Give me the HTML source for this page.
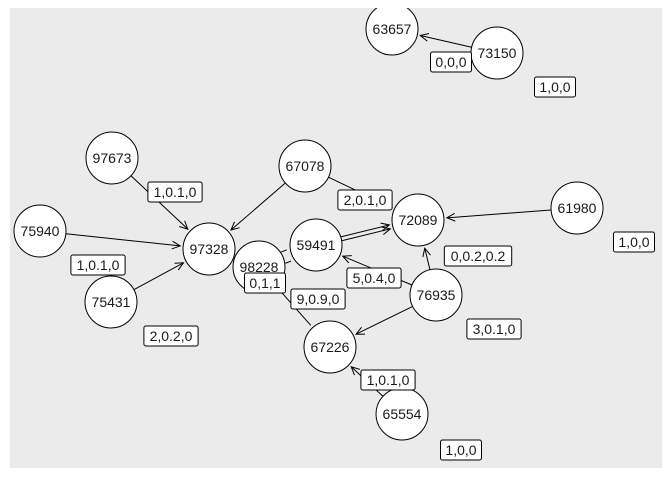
<!DOCTYPE html>
<html><head><meta charset="utf-8"><style>
body{margin:0;background:#fff}
svg text{font-family:"Liberation Sans",sans-serif;font-size:14px;fill:#1a1a1a}
</style></head><body>
<svg width="672" height="480">
<defs><clipPath id="cp"><rect x="10" y="8" width="652" height="460"/></clipPath></defs>
<rect x="10" y="8" width="652" height="460" fill="#ebebeb"/>
<g id="g" clip-path="url(#cp)"></g>
</svg>
<script>
const nodeIds=["63657","73150","97673","67078","61980","72089","75940","97328","59491","98228","75431","76935","67226","65554"];
const nodeX=[392,497,112,305,577,418,40,209,316,259,111,436,330,402];
const nodeY=[29,53,158,166,208,220,231,249,245,267,302,295,347,414];
const edgeFrom=["73150","97673","67078","75940","75431","67078","59491","59491","98228","98228","61980","76935","76935","76935","65554","98228"];
const edgeTo=["63657","97328","97328","97328","97328","72089","72089","72089","59491","59491","72089","72089","59491","67226","67226","67226"];
const edgeArrow=[1,1,1,1,1,1,1,1,0,0,1,1,1,1,1,0];
const edgeOffset=[0,0,0,0,0,0,-2,2,-6,6,0,0,0,0,0,0];
const labelText=["0,0,0","1,0,0","1,0.1,0","2,0.1,0","1,0,0","1,0.1,0","0,0.2,0.2","5,0.4,0","0,1,1","9,0.9,0","3,0.1,0","2,0.2,0","1,0.1,0","1,0,0"];
const labelX=[451,555,175,365,634,98,478,374,265,318,494,171,388,461];
const labelY=[62,87,192,200,242,265,256,278,283,299,329,336,380,450];
const R=26;
const g=document.getElementById('g');
const NS='http://www.w3.org/2000/svg';
function mk(t,a){const e=document.createElementNS(NS,t);for(const k in a)e.setAttribute(k,a[k]);g.appendChild(e);return e;}
function pos(id){const i=nodeIds.indexOf(id);return [nodeX[i],nodeY[i]];}
edgeFrom.forEach((f,i)=>{
  const [x1,y1]=pos(f),[x2,y2]=pos(edgeTo[i]);
  const dx=x2-x1,dy=y2-y1,L=Math.hypot(dx,dy),ux=dx/L,uy=dy/L,o=edgeOffset[i];
  const ox=-uy*o,oy=ux*o;
  const sx=x1+ux*R+ox,sy=y1+uy*R+oy,ex=x2-ux*(R+3)+ox,ey=y2-uy*(R+3)+oy;
  const l=mk('line',{x1:sx,y1:sy,x2:ex,y2:ey,stroke:'#000','stroke-width':1});
  
  
  if(edgeArrow[i]){
    const a=0.45,s=9;
    const p=`M${ex-s*(ux*Math.cos(a)-uy*Math.sin(a))},${ey-s*(uy*Math.cos(a)+ux*Math.sin(a))} L${ex},${ey} L${ex-s*(ux*Math.cos(a)+uy*Math.sin(a))},${ey-s*(uy*Math.cos(a)-ux*Math.sin(a))}`;
    const ar=mk('path',{d:p,fill:'none',stroke:'#000','stroke-width':1});
    
    
  }
});
nodeIds.forEach((id,i)=>{
  const c=mk('circle',{cx:nodeX[i],cy:nodeY[i],r:R,fill:'#fff',stroke:'#000','stroke-width':1});
  
  
  const t=mk('text',{x:nodeX[i],y:nodeY[i]+5,'text-anchor':'middle'});
  t.textContent=id;
  
  
});
labelText.forEach((s,i)=>{
  const w=s.length*6.6+8;
  const r=mk('rect',{x:labelX[i]-w/2,y:labelY[i]-10,width:w,height:20,rx:2,fill:'#fff',stroke:'#000','stroke-width':1});
  
  
  const t=mk('text',{x:labelX[i],y:labelY[i]+5,'text-anchor':'middle'});
  t.textContent=s;
  
  
});
</script>
</body></html>
